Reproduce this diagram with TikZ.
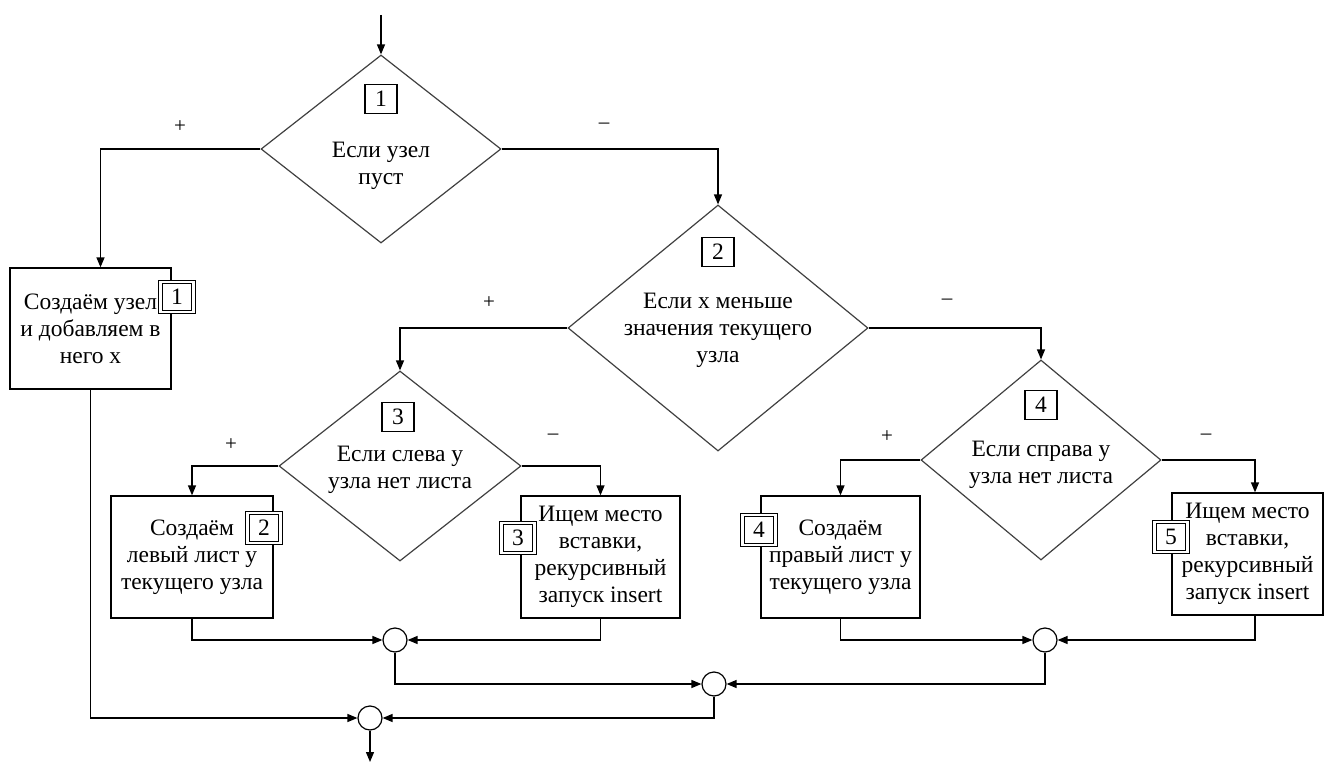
\documentclass[tikz,border=0pt]{standalone}
\usepackage{fontspec}
\setmainfont{Liberation Serif}
\usetikzlibrary{shapes.geometric,arrows.meta}
\begin{document}
\begin{tikzpicture}[x=1pt,y=-1pt,
  every node/.style={font=\fontsize{23.5}{27}\selectfont, inner sep=0pt},
  dec/.style={diamond, draw=black!75, line width=1.2pt},
  blk/.style={draw, line width=1.3pt, align=center},
  lbl/.style={draw, line width=1.2pt, fill=white, minimum width=32pt, minimum height=29pt},
  dlbl/.style={draw, line width=1pt, double=white, double distance=2.5pt, fill=white, minimum width=33pt, minimum height=30pt},
  jn/.style={circle, draw, line width=1.2pt, minimum size=24pt},
  sgn/.style={font=\fontsize{21}{25}\selectfont},
  txt/.style={align=center},
  ln/.style={line width=1.3pt},
  arr/.style={line width=1.3pt, -{Triangle[length=10pt,width=8pt]}}
]
\useasboundingbox (0,0) rectangle (1325,765);

% decisions
\node[dec, minimum width=240pt, minimum height=188pt] (d1) at (381,149) {};
\node[dec, minimum width=300pt, minimum height=246pt] (d2) at (718,328) {};
\node[dec, minimum width=242pt, minimum height=190pt] (d3) at (400,466) {};
\node[dec, minimum width=240pt, minimum height=200pt] (d4) at (1041,460) {};

\node[lbl] (n1) at (381,99) {1};
\node[lbl] (n2) at (718,252) {2};
\node[lbl] (n3) at (398,417) {3};
\node[lbl] (n4) at (1041,405) {4};

\node[txt] (t1) at (381,166) {Если узел\\пуст};
\node[txt] (t2) at (718,330) {Если x меньше\\значения текущего\\узла};
\node[txt] (t3) at (400,470) {Если слева у\\узла нет листа};
\node[txt] (t4) at (1041,465) {Если справа у\\узла нет листа};

% processes
\node[blk, minimum width=161pt, minimum height=121pt] (b1) at (90.5,328.5) {Создаём узел\\и добавляем в\\него x};
\node[blk, minimum width=162pt, minimum height=122pt] (b2) at (192,557) {Создаём\\левый лист у\\текущего узла};
\node[blk, minimum width=159pt, minimum height=122pt] (b3) at (600.5,557) {Ищем место\\вставки,\\рекурсивный\\запуск insert};
\node[blk, minimum width=159pt, minimum height=122pt] (b4) at (840.5,557) {Создаём\\правый лист у\\текущего узла};
\node[blk, minimum width=151pt, minimum height=122pt] (b5) at (1247.5,554) {Ищем место\\вставки,\\рекурсивный\\запуск insert};

\node[dlbl] (l1) at (177,297) {1};
\node[dlbl] (l2) at (264,528) {2};
\node[dlbl] (l3) at (518,538) {3};
\node[dlbl] (l4) at (759,530) {4};
\node[dlbl] (l5) at (1171,537) {5};

% junctions
\node[jn] (ja) at (395,640) {};
\node[jn] (jb) at (1045,640) {};
\node[jn] (jc) at (714,684) {};
\node[jn] (jd) at (370,718) {};

% signs
\node[sgn] (s1p) at (180,127) {+};
\node[sgn] (s1m) at (604,126) {–};
\node[sgn] (s2p) at (489,303) {+};
\node[sgn] (s2m) at (947,302) {–};
\node[sgn] (s3p) at (231,445) {+};
\node[sgn] (s3m) at (553,437) {–};
\node[sgn] (s4p) at (887,437) {+};
\node[sgn] (s4m) at (1206,437) {–};

\coordinate (start) at (381,15);
\coordinate (finish) at (370,762);

% connectors
\draw[arr] (start) -- (d1.north);
\draw[arr] (d1.west) -| ([xshift=10pt]b1.north);
\draw[arr] (d1.east) -| (d2.north);
\draw[arr] (d2.west) -| (d3.north);
\draw[arr] (d2.east) -| (d4.north);
\draw[arr] (d3.west) -| (b2.north);
\draw[arr] (d3.east) -| (b3.north);
\draw[arr] (d4.west) -| (b4.north);
\draw[arr] (d4.east) -| ([xshift=7.5pt]b5.north);
\draw[arr] (b1.south) |- (jd.west);
\draw[arr] (b2.south) |- (ja.west);
\draw[arr] (b3.south) |- (ja.east);
\draw[arr] (b4.south) |- (jb.west);
\draw[arr] ([xshift=7.5pt]b5.south) |- (jb.east);
\draw[arr] (ja.south) |- (jc.west);
\draw[arr] (jb.south) |- (jc.east);
\draw[arr] (jc.south) |- (jd.east);
\draw[arr] (jd.south) -- (finish);
\end{tikzpicture}
\end{document}
